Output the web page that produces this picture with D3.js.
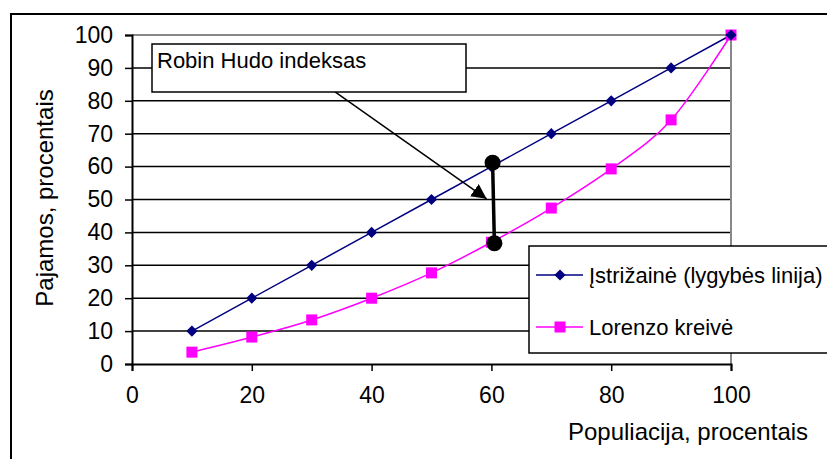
<!DOCTYPE html>
<html>
<head>
<meta charset="utf-8">
<script src="https://cdn.jsdelivr.net/npm/d3@7"></script>
<style>
  body { margin: 0; background: #fff; }
  svg { display: block; font-family: "Liberation Sans", Arial, sans-serif; }
</style>
</head>
<body>
<svg id="chart" width="827" height="459"></svg>
<script>
// chart data
const population = [10, 20, 30, 40, 50, 60, 70, 80, 90, 100];
const equality = [10, 20, 30, 40, 50, 60, 70, 80, 90, 100];
const lorenz = [3.6, 8.2, 13.4, 20, 27.7, 37, 47.4, 59.3, 74.2, 100];
const xTicks = [0, 20, 40, 60, 80, 100];
const yTicks = [0, 10, 20, 30, 40, 50, 60, 70, 80, 90, 100];
const seriesNames = ['Įstrižainė (lygybės linija)', 'Lorenzo kreivė'];
const noteText = 'Robin Hudo indeksas';
// the vertical gap marker and the arrow, in data units
const gapPoints = [[60.2, 61.2], [60.5, 36.7]];
const arrowPoints = [[33.9, 82.7], [59.2, 50.2]];

const svg = d3.select('#chart');
const fontSize = 22;
const tickFont = 23;
const titleFont = 24;
const navy = '#000080';
const magenta = '#ff00ff';

const x = d3.scaleLinear().domain([0, 100]).range([132, 731]);
const y = d3.scaleLinear().domain([0, 100]).range([364, 35]);

svg.append('defs').append('marker')
	.attr('id', 'arrowhead')
	.attr('viewBox', '0 0 10 10')
	.attr('refX', 10)
	.attr('refY', 5)
	.attr('markerWidth', 10)
	.attr('markerHeight', 10)
	.attr('markerUnits', 'strokeWidth')
	.attr('orient', 'auto')
	.append('path')
	.attr('d', 'M0,0 L10,5 L0,10 Z')
	.attr('fill', '#000');

// outer chart frame (runs past the window on the right and bottom)
svg.append('rect')
	.attr('x', 11).attr('y', 14)
	.attr('width', 840).attr('height', 470)
	.attr('fill', 'none')
	.attr('stroke', '#000')
	.attr('stroke-width', 2);

// gridlines
svg.append('g')
	.selectAll('line')
	.data(yTicks.filter(d => d > 0 && d < 100))
	.enter().append('line')
	.attr('x1', x(0)).attr('x2', x(100))
	.attr('y1', d => y(d)).attr('y2', d => y(d))
	.attr('stroke', '#000')
	.attr('stroke-width', 1.5);

// plot border top / right (grey)
svg.append('path')
	.attr('d', `M${x(0)},${y(100)} H${x(100)} V${y(0)}`)
	.attr('fill', 'none')
	.attr('stroke', '#888')
	.attr('stroke-width', 2);

// axes
const yAxis = svg.append('g')
	.attr('transform', `translate(${x(0)},0)`)
	.call(d3.axisLeft(y).tickValues(yTicks).tickSize(7).tickPadding(12));
const xAxis = svg.append('g')
	.attr('transform', `translate(0,${y(0)})`)
	.call(d3.axisBottom(x).tickValues(xTicks).tickSize(7).tickPadding(16));

[yAxis, xAxis].forEach(ax => {
	ax.select('.domain').attr('stroke', '#000').attr('stroke-width', 2);
	ax.selectAll('.tick line').attr('stroke', '#000').attr('stroke-width', 1.5);
	ax.selectAll('.tick text')
		.attr('fill', '#000')
		.style('font-size', tickFont + 'px')
		.style('font-family', '"Liberation Sans", Arial, sans-serif');
});

// axis titles
svg.append('text')
	.attr('transform', 'translate(53,198) rotate(-90)')
	.attr('text-anchor', 'middle')
	.style('font-size', titleFont + 'px')
	.text('Pajamos, procentais');

svg.append('text')
	.attr('x', 688).attr('y', 440)
	.attr('text-anchor', 'middle')
	.style('font-size', titleFont + 'px')
	.text('Populiacija, procentais');

// series
const eqData = population.map((p, i) => [p, equality[i]]);
const lzData = population.map((p, i) => [p, lorenz[i]]);

svg.append('path')
	.datum(eqData)
	.attr('fill', 'none')
	.attr('stroke', navy)
	.attr('stroke-width', 1.5)
	.attr('d', d3.line().x(d => x(d[0])).y(d => y(d[1])));

svg.append('path')
	.datum(lzData)
	.attr('fill', 'none')
	.attr('stroke', magenta)
	.attr('stroke-width', 1.5)
	.attr('d', d3.line().x(d => x(d[0])).y(d => y(d[1])).curve(d3.curveCatmullRom.alpha(0)));

const diamond = d3.symbol().type(d3.symbolDiamond2).size(80);

svg.append('g')
	.selectAll('rect')
	.data(lzData)
	.enter().append('rect')
	.attr('x', d => x(d[0]) - 5.5)
	.attr('y', d => y(d[1]) - 5.5)
	.attr('width', 11).attr('height', 11)
	.attr('fill', magenta);

svg.append('g')
	.selectAll('path')
	.data(eqData)
	.enter().append('path')
	.attr('transform', d => `translate(${x(d[0])},${y(d[1])})`)
	.attr('d', diamond)
	.attr('fill', navy);

// Robin Hood gap marker
svg.append('line')
	.attr('x1', x(gapPoints[0][0])).attr('y1', y(gapPoints[0][1]))
	.attr('x2', x(gapPoints[1][0])).attr('y2', y(gapPoints[1][1]))
	.attr('stroke', '#000')
	.attr('stroke-width', 3.5);

svg.append('g')
	.selectAll('circle')
	.data(gapPoints)
	.enter().append('circle')
	.attr('cx', d => x(d[0]))
	.attr('cy', d => y(d[1]))
	.attr('r', 8)
	.attr('fill', '#000');

// callout
svg.append('line')
	.attr('x1', x(arrowPoints[0][0])).attr('y1', y(arrowPoints[0][1]))
	.attr('x2', x(arrowPoints[1][0])).attr('y2', y(arrowPoints[1][1]))
	.attr('stroke', '#000')
	.attr('stroke-width', 1.5)
	.attr('marker-end', 'url(#arrowhead)');

svg.append('rect')
	.attr('x', 152).attr('y', 44)
	.attr('width', 314).attr('height', 48)
	.attr('fill', '#fff')
	.attr('stroke', '#000')
	.attr('stroke-width', 1.5);

svg.append('text')
	.attr('x', 157).attr('y', 68)
	.style('font-size', fontSize + 'px')
	.text(noteText);

// legend
const legend = svg.append('g');
legend.append('rect')
	.attr('x', 529).attr('y', 246)
	.attr('width', 320).attr('height', 107)
	.attr('fill', '#fff')
	.attr('stroke', '#000')
	.attr('stroke-width', 1.5);

const legendRows = legend.selectAll('.legend-row')
	.data(seriesNames)
	.enter().append('g')
	.attr('class', 'legend-row')
	.attr('transform', (d, i) => `translate(0,${275 + i * 52})`);

legendRows.append('line')
	.attr('x1', 536).attr('x2', 583)
	.attr('stroke', (d, i) => i === 0 ? navy : magenta)
	.attr('stroke-width', 1.5);

legendRows.filter((d, i) => i === 0).append('path')
	.attr('transform', 'translate(560,0)')
	.attr('d', diamond)
	.attr('fill', navy);

legendRows.filter((d, i) => i === 1).append('rect')
	.attr('x', 554.5).attr('y', -5.5)
	.attr('width', 11).attr('height', 11)
	.attr('fill', magenta);

legendRows.append('text')
	.attr('x', 589).attr('dy', '0.35em')
	.style('font-size', fontSize + 'px')
	.text(d => d);
</script>
</body>
</html>
